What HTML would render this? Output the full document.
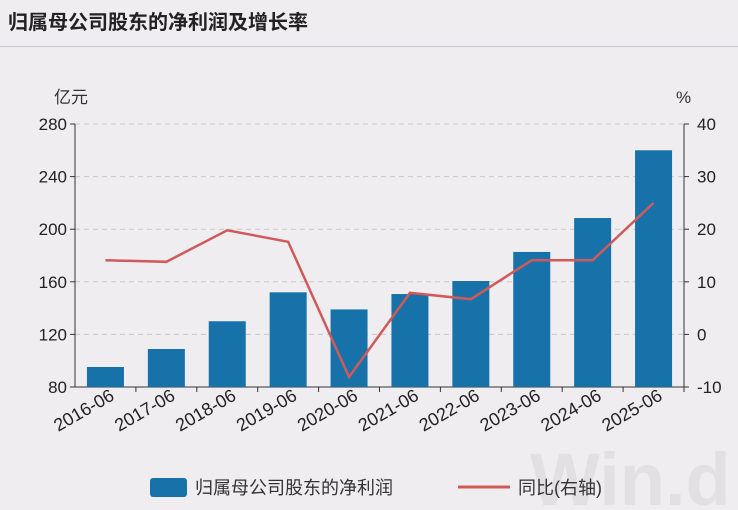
<!DOCTYPE html>
<html><head><meta charset="utf-8"><style>
body{margin:0;width:738px;height:510px;background:#efedf0;font-family:"Liberation Sans","Noto Sans CJK SC",sans-serif;overflow:hidden;position:relative}
.title{position:absolute;left:0;top:0;width:738px;height:47px;border-bottom:1px solid #c8c6ca;font-weight:bold;font-size:20px;line-height:47px;padding-left:8px;box-sizing:border-box;color:#222}
svg{position:absolute;left:0;top:0}
</style></head><body>
<div class="title">归属母公司股东的净利润及增长率</div>
<svg width="738" height="510" id="chart"></svg>
<script>
const categories=["2016-06","2017-06","2018-06","2019-06","2020-06","2021-06","2022-06","2023-06","2024-06","2025-06"];
const profitValues=[95.2,108.9,130,152,139,150.7,160.6,182.7,208.5,260];
const yoyValues=[14.1,13.8,19.8,17.6,-8.1,7.9,6.7,14.1,14.1,25];
const leftTicks=[80,120,160,200,240,280];
const rightTicks=[-10,0,10,20,30,40];
const NS="http://www.w3.org/2000/svg";
const svg=document.getElementById('chart');
const X0=75,X1=684,YB=387,YT=124;
const step=(X1-X0)/categories.length;
const xC=i=>X0+step*(i+0.5);
const yL=v=>YB-(v-80)/200*(YB-YT);
const yR=v=>YB-(v+10)/50*(YB-YT);
function mk(t,a,txt){const e=document.createElementNS(NS,t);for(const k in a)e.setAttribute(k,a[k]);if(txt!==undefined)e.textContent=txt;svg.appendChild(e);return e;}
const wm=mk('text',{x:530,y:505,'font-size':74,fill:'#e2e0e3','font-weight':'bold'},'Win.d');


leftTicks.forEach(v=>{
 if(v>80){const g=mk('line',{x1:X0,x2:X1,y1:yL(v),y2:yL(v),stroke:'#c8c8c8','stroke-dasharray':'5,4'});
 
 }
 mk('line',{x1:X0-5,x2:X0,y1:yL(v),y2:yL(v),stroke:'#333'});
 const t=mk('text',{x:X0-8,y:yL(v)+6,'text-anchor':'end','font-size':17,fill:'#222'},v);
 
 
});
rightTicks.forEach(v=>{
 mk('line',{x1:X1,x2:X1+5,y1:yR(v),y2:yR(v),stroke:'#333'});
 const t=mk('text',{x:X1+13,y:yR(v)+6,'font-size':17,fill:'#222'},v);
 
 
});
mk('line',{x1:X0,x2:X0,y1:YT,y2:YB,stroke:'#333'});
mk('line',{x1:X1,x2:X1,y1:YT,y2:YB,stroke:'#333'});
mk('line',{x1:X0,x2:X1,y1:YB,y2:YB,stroke:'#333'});
const lu=mk('text',{x:54,y:103,'font-size':17,fill:'#333'},'亿元');


const ru=mk('text',{x:676,y:103,'font-size':17,fill:'#333'},'%');


categories.forEach((c,i)=>{
 const b=mk('rect',{x:xC(i)-18.5,y:yL(profitValues[i]),width:37,height:YB-yL(profitValues[i]),fill:'#1672a8'});
 
 
 mk('line',{x1:X0+step*(i+1),x2:X0+step*(i+1),y1:YB,y2:YB+5,stroke:'#333'});
 const ax=xC(i)+10, ay=YB+12;
 const t=mk('text',{x:ax,y:ay,'text-anchor':'end','font-size':18,fill:'#222',transform:`rotate(-30 ${ax} ${ay})`},c);
 
 
});
const ln=mk('polyline',{points:yoyValues.map((v,i)=>xC(i)+','+yR(v)).join(' '),fill:'none',stroke:'#d05a5a','stroke-width':2.5});


const l1=mk('rect',{x:150,y:478,width:37,height:19,rx:3,fill:'#1672a8'});


const l1t=mk('text',{x:195,y:494,'font-size':18,fill:'#333'},'归属母公司股东的净利润');


const l2=mk('line',{x1:458,x2:510,y1:487,y2:487,stroke:'#d05a5a','stroke-width':3});


const l2t=mk('text',{x:518,y:494,'font-size':18,fill:'#333'},'同比(右轴)');


</script>
</body></html>
